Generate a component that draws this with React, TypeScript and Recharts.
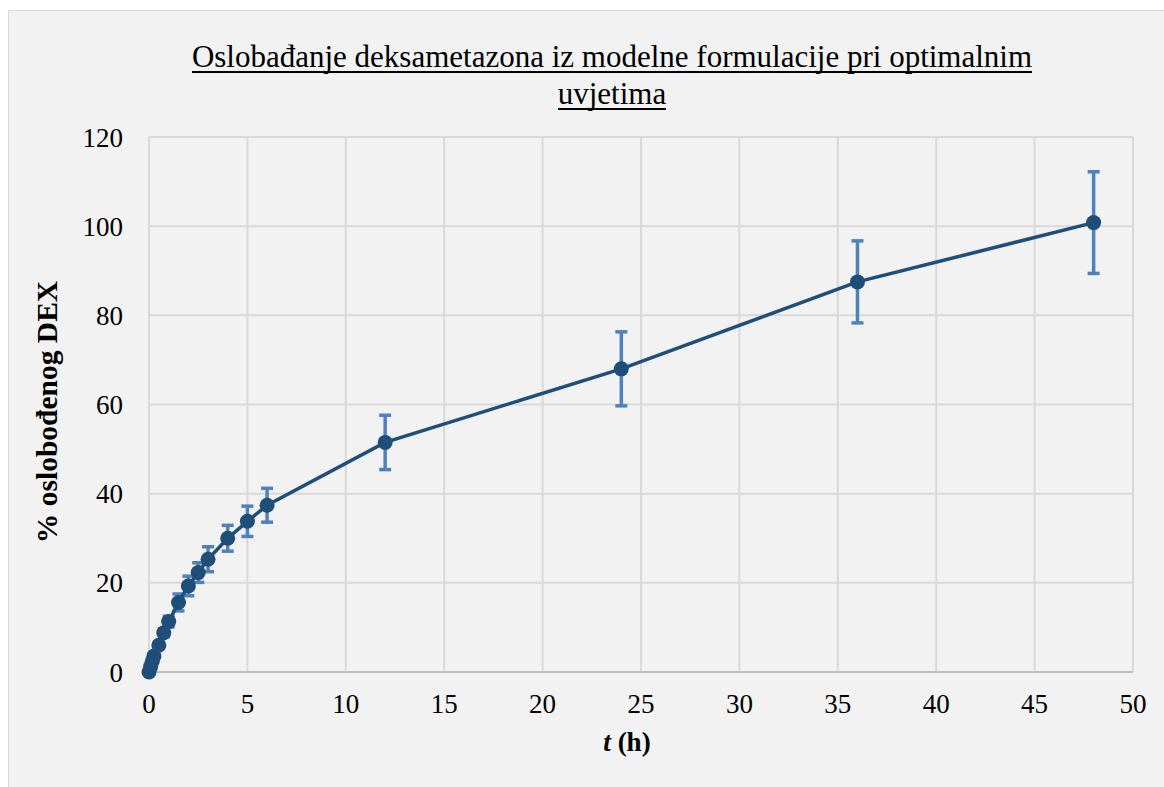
import React from 'react';
import { LineChart, Line, XAxis, YAxis, CartesianGrid, ErrorBar } from 'recharts';

// sampling times (h)
const timeH = [0, 0.083, 0.167, 0.25, 0.5, 0.75, 1, 1.5, 2, 2.5, 3, 4, 5, 6, 12, 24, 36, 48];
// % released DEX (mean)
const releasedPct = [0, 1.2, 2.4, 3.6, 6.0, 8.8, 11.3, 15.6, 19.3, 22.3, 25.3, 30.0, 33.8, 37.4, 51.5, 68.0, 87.5, 100.8];
// standard deviation
const sdPct = [0, 0.2, 0.4, 0.5, 0.7, 0.9, 1.2, 1.9, 2.2, 2.2, 2.8, 2.9, 3.4, 3.8, 6.1, 8.3, 9.2, 11.4];

const xTicks = [0, 5, 10, 15, 20, 25, 30, 35, 40, 45, 50];
const yTicks = [0, 20, 40, 60, 80, 100, 120];

const titleLines = ['Oslobađanje deksametazona iz modelne formulacije pri optimalnim', 'uvjetima'];

const FONT = '"Liberation Serif", "Times New Roman", serif';
const LINE_COLOR = '#1f4e79';
const ERR_COLOR = '#4f81bd';

const data = timeH.map((t, i) => ({ t, released: releasedPct[i], sd: sdPct[i] }));

export default function App() {
  return (
    <div
      style={{
        position: 'fixed',
        left: 8,
        top: 10,
        width: 1160,
        height: 780,
        background: '#f2f2f2',
        border: '1px solid #d9d9d9',
        fontFamily: FONT,
        color: '#000',
      }}
    >
      <div
        style={{
          position: 'absolute',
          left: 103,
          top: 27,
          width: 1000,
          textAlign: 'center',
          fontFamily: FONT,
          fontSize: 31,
          lineHeight: '37px',
        }}
      >
        {titleLines.map((line, i) => (
          <div key={i}>
            <span style={{ position: 'relative', display: 'inline-block' }}>
              {line}
              <span
                style={{
                  position: 'absolute',
                  left: 0,
                  right: 0,
                  top: 33,
                  height: 1.5,
                  background: '#000',
                }}
              />
            </span>
          </div>
        ))}
      </div>

      <LineChart
        width={1155}
        height={776}
        data={data}
        margin={{ top: 126, right: 31, bottom: 75, left: 0 }}
        style={{ position: 'absolute', left: 0, top: 0 }}
      >
        <CartesianGrid stroke="#d9d9d9" strokeWidth={2} />
        <XAxis
          type="number"
          dataKey="t"
          domain={[0, 50]}
          ticks={xTicks}
          interval={0}
          height={40}
          tickSize={0}
          tickMargin={22}
          tickLine={false}
          axisLine={{ stroke: '#bfbfbf', strokeWidth: 2 }}
          tick={{ fill: '#000', fontSize: 27, fontFamily: FONT }}
        />
        <YAxis
          type="number"
          domain={[0, 120]}
          ticks={yTicks}
          interval={0}
          width={140}
          tickSize={0}
          tickMargin={26}
          tickLine={false}
          axisLine={{ stroke: '#d9d9d9', strokeWidth: 2 }}
          tick={{ fill: '#000', fontSize: 27, fontFamily: FONT }}
        />
        <Line
          type="linear"
          dataKey="released"
          stroke={LINE_COLOR}
          strokeWidth={3.5}
          dot={{ r: 7.5, fill: LINE_COLOR, stroke: LINE_COLOR, strokeWidth: 0 }}
          isAnimationActive={false}
        >
          <ErrorBar
            dataKey="sd"
            direction="y"
            width={6}
            strokeWidth={3.5}
            stroke={ERR_COLOR}
            isAnimationActive={false}
          />
        </Line>
      </LineChart>

      <div
        style={{
          position: 'absolute',
          left: 518,
          top: 718,
          width: 200,
          textAlign: 'center',
          fontFamily: FONT,
          fontSize: 27,
          lineHeight: '27px',
          fontWeight: 'bold',
        }}
      >
        <i>t</i> (h)
      </div>

      <div
        style={{
          position: 'absolute',
          left: -162,
          top: 384,
          width: 400,
          height: 34,
          textAlign: 'center',
          fontFamily: FONT,
          fontSize: 29.5,
          lineHeight: '34px',
          fontWeight: 'bold',
          transform: 'rotate(-90deg)',
          whiteSpace: 'nowrap',
        }}
      >
        % oslobođenog DEX
      </div>
    </div>
  );
}
